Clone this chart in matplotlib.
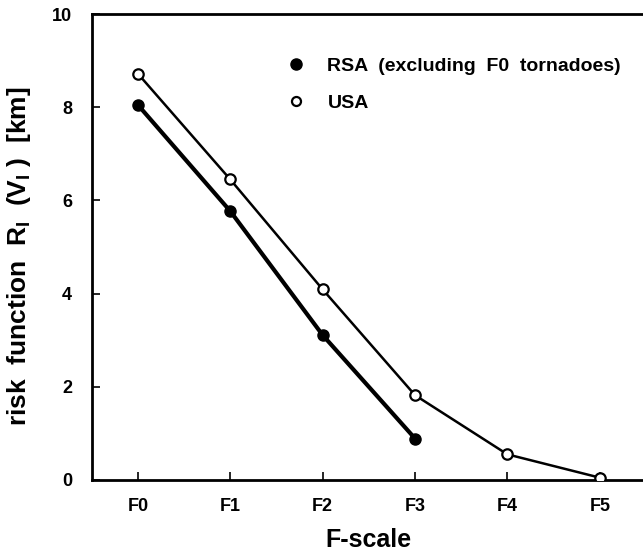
import numpy as np
import matplotlib
matplotlib.use('Agg')
import matplotlib.pyplot as plt
from matplotlib.lines import Line2D

plt.rcParams['font.family'] = ['Liberation Sans', 'DejaVu Sans']
plt.rcParams['font.weight'] = 'bold'
plt.rcParams['mathtext.fontset'] = 'custom'
plt.rcParams['mathtext.rm'] = 'Liberation Sans:bold'
plt.rcParams['mathtext.it'] = 'Liberation Sans:bold'
plt.rcParams['mathtext.bf'] = 'Liberation Sans:bold'

# F-scale categories
f_labels = ['F0', 'F1', 'F2', 'F3', 'F4', 'F5']
rsa_vals = [8.05, 5.77, 3.11, 0.89]
usa_vals = [8.72, 6.45, 4.09, 1.82, 0.55, 0.05]

fig = plt.figure(figsize=(6.43, 5.5), dpi=100, facecolor='white')
ax = fig.add_axes([0.1426, 0.1273, 0.862, 0.8472])

x_rsa = np.arange(len(rsa_vals))
x_usa = np.arange(len(usa_vals))

ax.plot(x_usa, usa_vals, color='black', linewidth=1.8, marker='o',
        markersize=7.5, markerfacecolor='white', markeredgecolor='black',
        markeredgewidth=1.6, zorder=3)
ax.plot(x_rsa, rsa_vals, color='black', linewidth=3.0, marker='o',
        markersize=8, markerfacecolor='black', markeredgecolor='black', zorder=4)

ax.set_xlim(-0.5, 5.5)
ax.set_ylim(0, 10)
ax.set_xticks(x_usa)
ax.set_xticklabels(f_labels)
ax.set_yticks(np.arange(0, 11, 2))

ax.tick_params(axis='both', direction='in', length=6, width=1.2,
               labelsize=13)
ax.tick_params(axis='x', pad=13)
ax.tick_params(axis='y', pad=14)
for lab in ax.get_xticklabels() + ax.get_yticklabels():
    lab.set_fontweight('bold')

for spine in ax.spines.values():
    spine.set_linewidth(2.0)
    spine.set_color('black')

ax.set_xlabel('F-scale', fontsize=18, fontweight='bold', labelpad=9)
ax.set_ylabel(r'risk  function  R$_{I}$  (V$_{I}$ )  [km]', fontsize=19,
              fontweight='bold')
ax.yaxis.set_label_coords(-0.106, 0.48)

handles = [
    Line2D([], [], linestyle='none', marker='o', markersize=8,
           markerfacecolor='black', markeredgecolor='black'),
    Line2D([], [], linestyle='none', marker='o', markersize=6.5,
           markerfacecolor='white', markeredgecolor='black', markeredgewidth=1.6),
]
leg = ax.legend(handles, ['RSA  (excluding  F0  tornadoes)', 'USA'],
                loc='upper left', bbox_to_anchor=(0.32, 0.945),
                frameon=False, fontsize=14, handlelength=1.0,
                handletextpad=1.1, labelspacing=1.0)
for t in leg.get_texts():
    t.set_fontweight('bold')

fig.savefig('out.png', dpi=100, facecolor='white')
